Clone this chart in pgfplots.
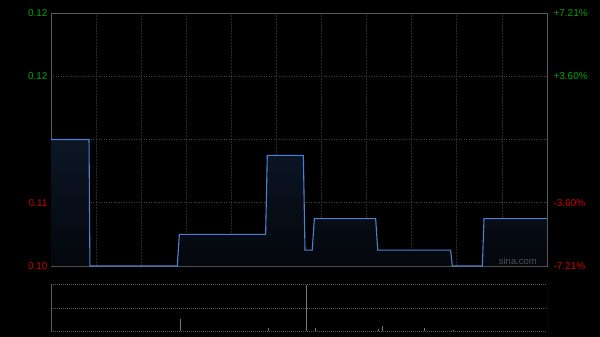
\documentclass[border=0pt]{standalone}
\usepackage{pgfplots}
\pgfplotsset{compat=1.18}
\usepackage{pgfplotstable}
\usepackage{fontspec}
\setmainfont{Liberation Sans}
\definecolor{gridc}{RGB}{42,42,42}
\definecolor{hgridc}{RGB}{68,68,68}
\definecolor{framec}{RGB}{90,90,90}
\definecolor{prevc}{RGB}{78,78,78}
\definecolor{lineblue}{RGB}{78,128,210}
\definecolor{upg}{RGB}{0,165,0}
\definecolor{dnr}{RGB}{205,0,0}
\definecolor{volgray}{RGB}{120,120,120}
\definecolor{filltop}{RGB}{12,22,38}
\definecolor{fillbot}{RGB}{4,7,12}

\pgfplotstableread{
t p
0 0.111
25.3 0.111
25.9 0.103
84.0 0.103
85.4 0.105
142.8 0.105
143.9 0.110
167.9 0.110
169.0 0.104
173.8 0.104
175.2 0.106
216.0 0.106
217.4 0.104
265.9 0.104
267.0 0.103
287.0 0.103
288.1 0.106
330 0.106
}\pricedata

\pgfplotstableread{
t p
0 0.103
0 0.111
25.3 0.111
25.9 0.103
84.0 0.103
85.4 0.105
142.8 0.105
143.9 0.110
167.9 0.110
169.0 0.104
173.8 0.104
175.2 0.106
216.0 0.106
217.4 0.104
265.9 0.104
267.0 0.103
287.0 0.103
288.1 0.106
330 0.106
330 0.103
}\filldata

\pgfplotstableread{
t v
86.0 27
144.8 7
169.7 100
176.1 7
218.0 4
220.7 11
248.2 7
267.8 2
}\voldata

\begin{document}
\begin{tikzpicture}[x=1pt,y=1pt]
\fill[black] (0,0) rectangle (600,-337);
\path[use as bounding box] (0,0) rectangle (600,-337);
\begin{axis}[
 at={(51pt,-266pt)}, anchor=south west,
 width=496pt, height=253pt, scale only axis,
 xmin=0, xmax=330, ymin=0.103, ymax=0.119,
 axis line style={framec, line width=0.8pt},
 xtick={30,60,...,300}, xticklabels={}, major tick length=0pt,
 xmajorgrids, major x grid style={gridc, dash pattern=on 2pt off 1pt, line width=0.8pt},
 ytick={0.103,0.107,0.115,0.119},
 yticklabels={\textcolor{dnr}{0.10},\textcolor{dnr}{0.11},\textcolor{upg}{0.12},\textcolor{upg}{0.12}},
 ymajorgrids, major y grid style={hgridc, dash pattern=on 1pt off 1.5pt, line width=0.7pt},
 extra y ticks={0.111}, extra y tick labels={},
 extra y tick style={grid=major, major grid style={prevc, dash pattern=on 3pt off 1.5pt on 1pt off 1.5pt, line width=0.7pt}},
 tick label style={font=\fontsize{10}{12}\selectfont},
 clip=true,
]
\addplot[draw=none, top color=filltop, bottom color=fillbot] table[x=t,y=p] {\filldata};
\addplot[lineblue, line width=1.1pt, line join=miter] table[x=t,y=p] {\pricedata};
\node[anchor=south east, text=volgray!130, font=\fontsize{9.5}{11}\selectfont, inner sep=0pt] at (rel axis cs:0.98,0.006) {sina.com};
\end{axis}
\begin{axis}[
 at={(51pt,-266pt)}, anchor=south west,
 width=496pt, height=253pt, scale only axis,
 xmin=0, xmax=330, ymin=0.103, ymax=0.119,
 axis y line*=right, axis x line=none,
 axis line style={framec, line width=0.8pt},
 major tick length=0pt,
 ytick={0.103,0.107,0.115,0.119},
 yticklabels={\textcolor{dnr}{-7.21\%},\textcolor{dnr}{-3.60\%},\textcolor{upg}{+3.60\%},\textcolor{upg}{+7.21\%}},
 tick label style={font=\fontsize{10}{12}\selectfont},
 yticklabel style={xshift=3pt},
]
\end{axis}
\begin{axis}[
 at={(51pt,-331.3pt)}, anchor=south west,
 width=496pt, height=46.6pt, scale only axis,
 xmin=0, xmax=330, ymin=0, ymax=100,
 axis line style={draw=none},
 xtick=\empty, ytick={0,50,100}, yticklabels={}, major tick length=0pt,
 ymajorgrids, major y grid style={framec, dash pattern=on 1pt off 1pt, line width=0.8pt},
]
\addplot[ycomb, volgray, line width=1pt, mark=none] table[x=t,y=v] {\voldata};
\draw[framec, line width=0.8pt] (rel axis cs:0,0) -- (rel axis cs:0,1);
\draw[framec, line width=0.8pt] (rel axis cs:1,0) -- (rel axis cs:1,1);
\end{axis}
\end{tikzpicture}
\end{document}
